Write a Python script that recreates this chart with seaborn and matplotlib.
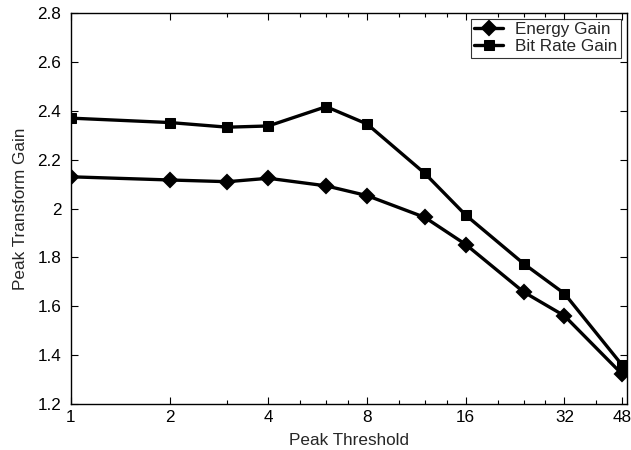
import matplotlib
matplotlib.use("Agg")
import matplotlib.pyplot as plt
import seaborn as sns
import pandas as pd
from matplotlib.ticker import FixedLocator, NullFormatter, FixedFormatter

thresholds = [1, 2, 3, 4, 6, 8, 12, 16, 24, 32, 48]
energy_gain = [2.13, 2.117, 2.110, 2.124, 2.093, 2.053, 1.964, 1.853, 1.659, 1.561, 1.322]
bitrate_gain = [2.37, 2.352, 2.333, 2.338, 2.417, 2.346, 2.144, 1.973, 1.775, 1.652, 1.359]
xtick_vals = [1, 2, 4, 8, 16, 32, 48]
xtick_labels = ["1", "2", "4", "8", "16", "32", "48"]
xminor_vals = [3, 5, 6, 7, 10, 12, 14, 20, 24, 28, 40]
ytick_vals = [1.2, 1.4, 1.6, 1.8, 2.0, 2.2, 2.4, 2.6, 2.8]
ytick_labels = ["1.2", "1.4", "1.6", "1.8", "2", "2.2", "2.4", "2.6", "2.8"]

df = pd.DataFrame({
    "x": thresholds * 2,
    "y": energy_gain + bitrate_gain,
    "series": ["Energy Gain"] * len(thresholds) + ["Bit Rate Gain"] * len(thresholds),
})

sns.set_style("ticks")
plt.rcParams["font.family"] = ["Liberation Sans", "DejaVu Sans"]
FS = 12.3
plt.rcParams["font.size"] = FS

fig = plt.figure(figsize=(6.31, 4.5), dpi=100)
ax = fig.add_axes([0.1125, 0.102, 0.881, 0.869])

sns.lineplot(data=df, x="x", y="y", hue="series", style="series",
             palette={"Energy Gain": "black", "Bit Rate Gain": "black"},
             markers={"Energy Gain": "D", "Bit Rate Gain": "s"},
             dashes=False, linewidth=2.4, markersize=7.5,
             markeredgecolor="black", ax=ax)
for line in ax.get_lines():
    if line.get_marker() == "D":
        line.set_markersize(7.5)
        line.set_markeredgewidth(1.5)

ax.set_xscale("log", base=2)
ax.set_xlim(1, 49.6)
ax.set_ylim(1.2, 2.8)
ax.xaxis.set_major_locator(FixedLocator(xtick_vals))
ax.xaxis.set_major_formatter(FixedFormatter(xtick_labels))
ax.xaxis.set_minor_locator(FixedLocator(xminor_vals))
ax.xaxis.set_minor_formatter(NullFormatter())
ax.yaxis.set_major_locator(FixedLocator(ytick_vals))
ax.yaxis.set_major_formatter(FixedFormatter(ytick_labels))

ax.tick_params(which="both", direction="in", top=True, right=True, colors="black", labelsize=FS)
ax.tick_params(which="major", length=5, width=0.8)
ax.tick_params(which="minor", length=3, width=0.8)
ax.tick_params(axis="x", pad=4)
ax.tick_params(axis="y", pad=7)
for s in ax.spines.values():
    s.set_visible(True)
    s.set_color("black")
    s.set_linewidth(1.0)

ax.set_xlabel("Peak Threshold", fontsize=FS, labelpad=6)
ax.set_ylabel("Peak Transform Gain", fontsize=FS, labelpad=7)

leg = ax.legend(loc="upper right", frameon=True, fancybox=False, edgecolor="black",
                fontsize=FS, handlelength=1.7, borderpad=0.2, labelspacing=0.1,
                borderaxespad=0.35, handletextpad=0.7)
leg.get_frame().set_linewidth(0.8)
leg.set_title(None)

fig.savefig("out.png", dpi=100)
